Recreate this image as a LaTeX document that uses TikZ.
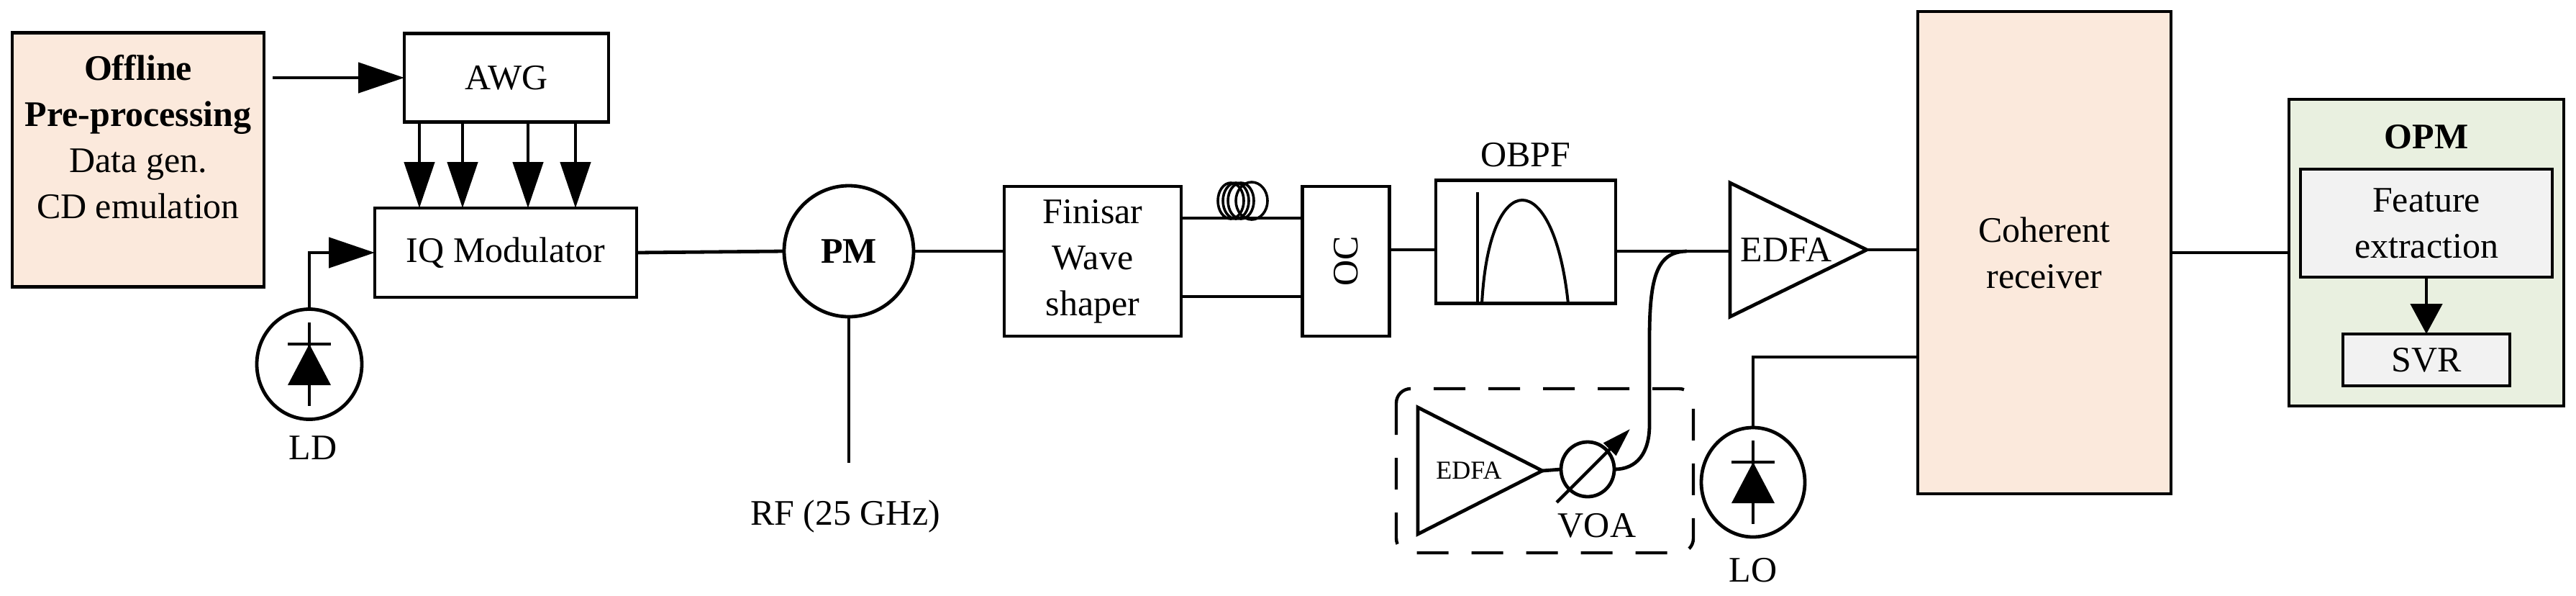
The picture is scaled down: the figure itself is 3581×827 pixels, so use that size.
\documentclass[tikz,border=0pt]{standalone}
\usepackage{fontspec}
\setmainfont{Liberation Serif}
\usetikzlibrary{shapes.geometric,arrows.meta}
\definecolor{peach}{HTML}{FBE9DC}
\definecolor{lgreen}{HTML}{E9F0E0}
\definecolor{lgray}{HTML}{F2F2F2}
\begin{document}
\begin{tikzpicture}[x=0.5pt,y=-0.5pt,line width=2.4pt,
  every node/.style={inner sep=0pt,outer sep=0pt,font=\fontsize{25}{32}\selectfont},
  box/.style={draw,rectangle},
  ell/.style={draw,ellipse},
  big/.style={-{Triangle[length=32pt,width=21pt]}},
  mid/.style={-{Triangle[length=21pt,width=22pt]}},
  diode/.style={fill=black,line width=2pt}]
\useasboundingbox (0,0) rectangle (3581,827);
% Offline
\node[box,fill=peach,minimum width=175pt,minimum height=176.5pt] (off) at (192,222) {};
\node[align=center] (offt) at (192,190) {\textbf{Offline}\\\textbf{Pre-processing}\\Data gen.\\CD emulation};
\node[box,minimum width=142pt,minimum height=61.5pt] (awg) at (704,108) {AWG};
\node[box,minimum width=182pt,minimum height=62pt] (iq) at (703,351) {IQ Modulator};
\draw[big] (379,108) coordinate (o1) -- (awg.west);
\foreach \xx in {583,643,734,800}{
  \draw[big] (\xx,169) -- (\xx,289);
}
% LD
\node[ell,minimum width=73pt,minimum height=76.5pt] (ld) at (430,506) {};
\draw[line width=2pt] (430,448) -- (430,564);
\draw[line width=2pt] (400,478) -- (460,478);
\fill (430,478) -- (400,535) -- (460,535) -- cycle;
\node (ldl) at (435,622) {LD};
\draw[big] (ld.north) |- (iq.west);
% PM
\node[ell,minimum width=90pt,minimum height=91pt,font=\fontsize{25}{32}\selectfont\bfseries] (pm) at (1180,349) {PM};
\draw (iq.east) -- (pm.west);
\coordinate (rf) at (1180,643);
\draw (pm.south) -- (rf);
\node (rfl) at (1175,717) {RF (25 GHz)};
% Finisar
\node[box,minimum width=123pt,minimum height=104pt,align=center] (fin) at (1519,363) {Finisar\\Wave\\shaper};
\draw (pm.east) -- (fin.west |- pm.east);
\node[box,minimum width=60.5pt,minimum height=104pt] (oc) at (1871,363) {\rotatebox{90}{OC}};
\draw (fin.east |- 0,303) -- (oc.west |- 0,303);
\draw (fin.east |- 0,412) -- (oc.west |- 0,412);
% fiber coil
\foreach \cx in {1711,1718,1725}{
  \draw[line width=1.8pt] (\cx,279) ellipse [x radius=9pt,y radius=12.5pt];
}
\draw[line width=1.8pt] (1740,279) ellipse [x radius=11pt,y radius=13pt];
% OBPF
\node[box,minimum width=125pt,minimum height=85.5pt] (obpf) at (2121,336) {};
\node (obpfl) at (2121,215) {OBPF};
\draw (oc.east |- 0,347) -- (obpf.west |- 0,347);
\draw[line width=2pt] (2054,267) -- (2054,422);
\draw[line width=2pt] (2060,422) .. controls (2070,230) and (2160,230) .. (2180,422);
% EDFA
\draw (2405,254) coordinate (e1) -- (2595,347) coordinate (etip) -- (2405,440) coordinate (e3) -- cycle;
\node (edfa) at (2483,347) {EDFA};
\draw (obpf.east |- 0,349) -- (2405,349);
% Coherent receiver
\node[box,fill=peach,minimum width=176pt,minimum height=335pt,align=center] (coh) at (2842,351) {Coherent\\receiver};
\draw (etip) -- (coh.west |- etip);
% OPM
\node[box,fill=lgreen,minimum width=191pt,minimum height=213pt] (opm) at (3373,351) {};
\node[font=\fontsize{25}{32}\selectfont\bfseries] (opml) at (3373,190) {OPM};
\node[box,fill=lgray,minimum width=175pt,minimum height=75pt,align=center] (feat) at (3373,310) {Feature\\extraction};
\node[box,fill=lgray,minimum width=116pt,minimum height=36pt] (svr) at (3373,500) {SVR};
\draw[mid] (feat.south) -- (svr.north);
\draw (coh.east) -- (opm.west);
% dashed box
\draw[dash pattern=on 22pt off 16pt,line width=2.2pt,rounded corners=10pt] (1941,540) rectangle (2354,768);
\draw (1971,566) -- (2144,654) coordinate (itip) -- (1971,742) -- cycle;
\node[font=\fontsize{18}{22}\selectfont] (iedfa) at (2042,654) {EDFA};
\node[ell,minimum width=37pt,minimum height=38pt] (voa) at (2207,652) {};
\draw (itip) -- (voa.west);
\draw[line width=2.2pt,-{Triangle[length=20pt,width=12pt]}] (2164,698) -- (2266,596);
\node (voal) at (2220,730) {VOA};
\draw (voa.east) .. controls (2275,652) and (2293,630) .. (2293,590) -- (2293,470) .. controls (2293,380) and (2305,350) .. (2345,349);
% LO
\node[ell,minimum width=72pt,minimum height=76pt] (lo) at (2437,670) {};
\draw[line width=2pt] (2437,612) -- (2437,728);
\draw[line width=2pt] (2407,642) -- (2467,642);
\fill (2437,642) -- (2407,699) -- (2467,699) -- cycle;
\node (lol) at (2437,792) {LO};
\draw (lo.north) |- (coh.west |- 0,496);
\end{tikzpicture}
\end{document}
